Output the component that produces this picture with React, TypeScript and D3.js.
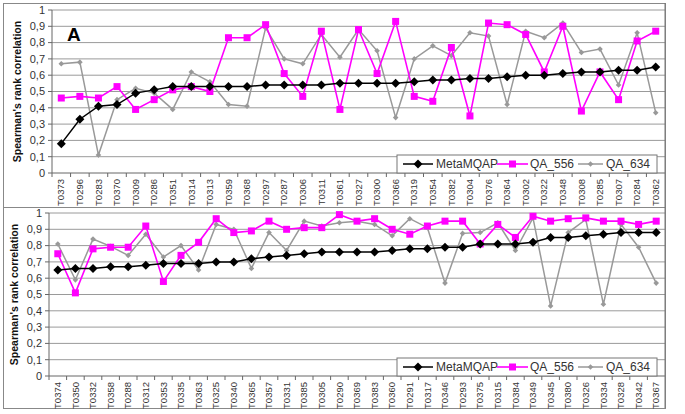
import { scaleBand, scaleLinear, line, range } from "d3";

const topCats = ["T0373", "T0296", "T0283", "T0370", "T0309", "T0286", "T0351", "T0314", "T0313", "T0359", "T0368", "T0297", "T0287", "T0306", "T0311", "T0361", "T0327", "T0300", "T0366", "T0319", "T0354", "T0382", "T0304", "T0376", "T0364", "T0302", "T0322", "T0348", "T0308", "T0285", "T0307", "T0284", "T0362"];
const topMeta = [0.18, 0.33, 0.41, 0.42, 0.49, 0.51, 0.53, 0.53, 0.53, 0.53, 0.53, 0.54, 0.54, 0.54, 0.54, 0.55, 0.55, 0.55, 0.55, 0.56, 0.57, 0.57, 0.58, 0.58, 0.59, 0.6, 0.6, 0.61, 0.62, 0.62, 0.63, 0.63, 0.65];
const topQA556 = [0.46, 0.47, 0.46, 0.53, 0.39, 0.45, 0.51, 0.53, 0.5, 0.83, 0.83, 0.91, 0.61, 0.47, 0.87, 0.39, 0.88, 0.61, 0.93, 0.47, 0.44, 0.77, 0.35, 0.92, 0.91, 0.85, 0.62, 0.9, 0.38, 0.62, 0.45, 0.81, 0.87];
const topQA634 = [0.67, 0.68, 0.11, 0.45, 0.52, 0.49, 0.39, 0.62, 0.56, 0.42, 0.41, 0.89, 0.7, 0.67, 0.85, 0.71, 0.88, 0.75, 0.34, 0.7, 0.78, 0.72, 0.86, 0.84, 0.42, 0.87, 0.83, 0.92, 0.74, 0.76, 0.54, 0.86, 0.37];

const botCats = ["T0374", "T0350", "T0332", "T0358", "T0288", "T0312", "T0353", "T0335", "T0363", "T0325", "T0340", "T0365", "T0357", "T0331", "T0385", "T0305", "T0290", "T0369", "T0383", "T0360", "T0291", "T0317", "T0346", "T0293", "T0375", "T0315", "T0384", "T0349", "T0345", "T0380", "T0326", "T0334", "T0328", "T0342", "T0367"];
const botMeta = [0.65, 0.66, 0.66, 0.67, 0.67, 0.68, 0.69, 0.69, 0.69, 0.7, 0.7, 0.72, 0.73, 0.74, 0.75, 0.76, 0.76, 0.76, 0.76, 0.77, 0.78, 0.78, 0.79, 0.79, 0.81, 0.81, 0.81, 0.82, 0.85, 0.85, 0.86, 0.87, 0.88, 0.88, 0.88];
const botQA556 = [0.75, 0.51, 0.78, 0.79, 0.79, 0.92, 0.58, 0.74, 0.82, 0.965, 0.88, 0.89, 0.95, 0.9, 0.91, 0.91, 0.99, 0.95, 0.965, 0.9, 0.87, 0.92, 0.95, 0.95, 0.81, 0.93, 0.85, 0.98, 0.95, 0.965, 0.97, 0.95, 0.95, 0.93, 0.95];
const botQA634 = [0.81, 0.59, 0.84, 0.795, 0.74, 0.87, 0.73, 0.8, 0.65, 0.93, 0.9, 0.66, 0.88, 0.77, 0.95, 0.92, 0.94, 0.95, 0.93, 0.86, 0.965, 0.91, 0.57, 0.875, 0.88, 0.94, 0.77, 0.97, 0.43, 0.88, 0.96, 0.44, 0.93, 0.79, 0.57];

const yTicks = range(0, 11).map((d) => d / 10);
const seriesNames = ["MetaMQAP", "QA_556", "QA_634"];

const FONT = "'Liberation Sans', Arial, sans-serif";
const BLACK = "#000";
const MAGENTA = "#ff00ff";
const GRAY = "#999999";

type PanelProps = {
  cats: string[];
  meta: number[];
  qa556: number[];
  qa634: number[];
  frameTop: number;
  frameBottom: number;
  x0: number;
  x1: number;
  yTop: number;
  yBottom: number;
  label?: string;
};

const Diamond = ({ x, y, r, fill }: { x: number; y: number; r: number; fill: string }) => (
  <path d={`M${x},${y - r}L${x + r},${y}L${x},${y + r}L${x - r},${y}Z`} fill={fill} />
);

const Square = ({ x, y, s, fill }: { x: number; y: number; s: number; fill: string }) => (
  <rect x={x - s / 2} y={y - s / 2} width={s} height={s} fill={fill} />
);

const Panel = ({ cats, meta, qa556, qa634, frameTop, frameBottom, x0, x1, yTop, yBottom, label }: PanelProps) => {
  const xScale = scaleBand().domain(cats).range([x0, x1]).padding(0);
  const yScale = scaleLinear().domain([0, 1]).range([yBottom, yTop]);
  const cx = (c: string) => xScale(c)! + xScale.bandwidth() / 2;

  const mk = (vals: number[]) =>
    line<number>()
      .x((_, i) => cx(cats[i]))
      .y((d) => yScale(d))(vals)!;

  const legendRight = x1 - 8;
  const legendLeft = legendRight - 260;
  const legendBottom = yBottom;
  const legendTop = legendBottom - 18;
  const ly = (legendTop + legendBottom) / 2;

  return (
    <g>
      <rect x={3.5} y={frameTop + 0.5} width={x1 - 3} height={frameBottom - frameTop} fill="none" stroke="#888" strokeWidth={1} />
      {yTicks.map((t) => (
        <g key={`g-${t}`}>
          <line x1={x0} x2={x1} y1={yScale(t)} y2={yScale(t)} stroke={t === 0 ? "#666" : "#9a9a9a"} strokeWidth={1} />
          <line x1={x0 - 4} x2={x0} y1={yScale(t)} y2={yScale(t)} stroke="#666" />
          <text x={x0 - 7} y={yScale(t)} dy="0.35em" textAnchor="end" fontSize={11} fontFamily={FONT} fill="#333">
            {t === 0 ? "0" : t === 1 ? "1" : t.toFixed(1).replace(".", ",")}
          </text>
        </g>
      ))}
      <line x1={x0} x2={x0} y1={yTop} y2={yBottom} stroke="#666" />
      <line x1={x1} x2={x1} y1={frameTop} y2={frameBottom} stroke="#777" />
      {cats.map((c) => (
        <g key={`t-${c}`}>
          <line x1={xScale(c)!} x2={xScale(c)!} y1={yBottom} y2={yBottom + 4} stroke="#666" />
          <text
            transform={`translate(${cx(c) + 3.2},${yBottom + 6}) rotate(-90)`}
            textAnchor="end"
            fontSize={9.5}
            fontFamily={FONT}
            fill="#333"
          >
            {c}
          </text>
        </g>
      ))}
      <text
        transform={`translate(${x0 - 31},${(yTop + yBottom) / 2}) rotate(-90)`}
        textAnchor="middle"
        fontSize={10.5}
        fontWeight="bold"
        fontFamily={FONT}
        fill="#111"
      >
        Spearman's rank correlation
      </text>
      {label && (
        <text x={x0 + 15} y={yTop + 31} fontSize={19} fontWeight="bold" fontFamily={FONT} fill="#000">
          {label}
        </text>
      )}

      <path d={mk(qa634)} fill="none" stroke={GRAY} strokeWidth={1.5} />
      {qa634.map((v, i) => (
        <Diamond key={`g634-${i}`} x={cx(cats[i])} y={yScale(v)} r={2.8} fill={GRAY} />
      ))}
      <path d={mk(qa556)} fill="none" stroke={MAGENTA} strokeWidth={1.6} />
      {qa556.map((v, i) => (
        <Square key={`s556-${i}`} x={cx(cats[i])} y={yScale(v)} s={7} fill={MAGENTA} />
      ))}
      <path d={mk(meta)} fill="none" stroke={BLACK} strokeWidth={1.5} />
      {meta.map((v, i) => (
        <Diamond key={`m-${i}`} x={cx(cats[i])} y={yScale(v)} r={4.5} fill={BLACK} />
      ))}

      <rect x={legendLeft} y={legendTop} width={legendRight - legendLeft} height={legendBottom - legendTop} fill="#fff" stroke="#777" />
      <line x1={legendLeft + 6} x2={legendLeft + 36} y1={ly} y2={ly} stroke={BLACK} strokeWidth={1.5} />
      <Diamond x={legendLeft + 21} y={ly} r={4.5} fill={BLACK} />
      <text x={legendLeft + 39} y={ly} dy="0.36em" fontSize={12} fontFamily={FONT} fill="#333">{seriesNames[0]}</text>
      <line x1={legendLeft + 100} x2={legendLeft + 131} y1={ly} y2={ly} stroke={MAGENTA} strokeWidth={1.6} />
      <Square x={legendLeft + 115.5} y={ly} s={7} fill={MAGENTA} />
      <text x={legendLeft + 133} y={ly} dy="0.36em" fontSize={12} fontFamily={FONT} fill="#333">{seriesNames[1]}</text>
      <line x1={legendLeft + 181} x2={legendLeft + 206} y1={ly} y2={ly} stroke={GRAY} strokeWidth={1.5} />
      <Diamond x={legendLeft + 193.5} y={ly} r={2.8} fill={GRAY} />
      <text x={legendLeft + 209} y={ly} dy="0.36em" fontSize={12} fontFamily={FONT} fill="#333">{seriesNames[2]}</text>
    </g>
  );
};

const App = () => {
  return (
    <svg width={685} height={414} style={{ position: "absolute", left: 0, top: 0, background: "#fff" }}>
      <rect width={685} height={414} fill="#fff" />
      <Panel
        cats={topCats}
        meta={topMeta}
        qa556={topQA556}
        qa634={topQA634}
        frameTop={3}
        frameBottom={207}
        x0={52}
        x1={665}
        yTop={10}
        yBottom={173}
        label="A"
      />
      <Panel
        cats={botCats}
        meta={botMeta}
        qa556={botQA556}
        qa634={botQA634}
        frameTop={207}
        frameBottom={408}
        x0={49}
        x1={665}
        yTop={213}
        yBottom={376}
      />
    </svg>
  );
};

export default App;
